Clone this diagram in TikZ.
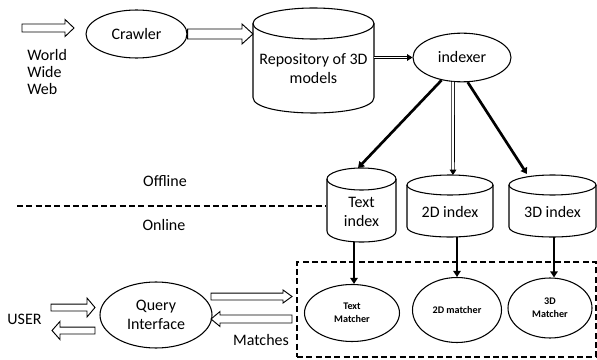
\documentclass[tikz,border=0pt]{standalone}
\usepackage{fontspec}
\setmainfont{Carlito}
\usetikzlibrary{calc,arrows.meta,shapes.geometric}
\newcommand\dbcyl[5]{%
  \draw[cylline] (#1-#4,#2+#5) -- (#1-#4,#3-#5) .. controls (#1-#4,#3+0.3333*#5) and (#1+#4,#3+0.3333*#5) .. (#1+#4,#3-#5) -- (#1+#4,#2+#5);
  \draw[cylline] (#1,#2+#5) ellipse [x radius=#4, y radius=#5];
}
\begin{document}
\begin{tikzpicture}[x=0.75pt,y=-0.75pt,
  every node/.style={font=\fontsize{12}{14.3}\selectfont, inner sep=0pt},
  ell/.style={draw, ellipse, line width=0.8pt},
  cylline/.style={line width=0.8pt},
  mtext/.style={font=\fontsize{7.6}{9.5}\selectfont\bfseries, align=center},
  link/.style={line width=2pt, -{Triangle[length=4.5pt,width=5.5pt]}},
  dbl/.style={double, double distance=1.4pt, line width=0.6pt, -{Triangle[length=4pt,width=5pt]}},
  dashline/.style={line width=1pt, dash pattern=on 4.5pt off 2.5pt},
  blk/.style n args={3}{draw, line width=0.7pt, fill=white, to path={let \p1=(\tikztostart), \p2=(\tikztotarget), \p3=($(\p2)!#3!(\p1)$) in ($(\p1)!#1!90:(\p2)$) -- ($(\p3)!#1!90:(\p2)$) -- ($(\p3)!#2!90:(\p2)$) -- (\p2) -- ($(\p3)!#2!-90:(\p2)$) -- ($(\p3)!#1!-90:(\p2)$) -- ($(\p1)!#1!-90:(\p2)$) -- cycle}}
]
\useasboundingbox (0,0) rectangle (597,360);

% cylinders
\dbcyl{313.5}{8}{113}{60.5}{15.5}
\dbcyl{361.5}{168}{242}{34.5}{11}
\dbcyl{450}{175}{237}{43}{10}
\dbcyl{552.5}{175}{237}{43.5}{10}
\node[align=center] (repo) at (313.5,69) {Repository of 3D\\models};
\node[align=center] (textidx) at (361.5,212) {Text\\index};
\node (idx2d) at (450,212) {2D index};
\node (idx3d) at (552.5,212) {3D index};

% ellipses
\node[ell, minimum width=75.75pt, minimum height=36pt] (crawler) at (136.5,34) {Crawler};
\node[ell, minimum width=73.5pt, minimum height=36.5pt] (indexer) at (462,57.5) {indexer};
\node[ell, minimum width=84pt, minimum height=49.5pt, align=center] (query) at (156,315) {Query\\Interface};
\node[draw, dashline, minimum width=224.25pt, minimum height=71.25pt] (box) at (446.5,309.5) {};
\node[ell, mtext, minimum width=71.25pt, minimum height=42.75pt] (textm) at (352,313) {Text\\Matcher};
\node[ell, mtext, minimum width=66.75pt, minimum height=48.75pt] (m2d) at (457,310) {2D matcher};
\node[ell, mtext, minimum width=63pt, minimum height=45pt] (m3d) at (550,308) {3D\\Matcher};

% labels
\node[align=left, anchor=west, font=\fontsize{12}{13.1}\selectfont] (www) at (27,72) {World\\Wide\\Web};
\node (offline) at (165,181) {Offline};
\node (online) at (164,225) {Online};
\node (user) at (24.5,319) {USER};
\node (matches) at (261,340) {Matches};

% coordinates
\coordinate (www-a) at (22,28);
\coordinate (www-b) at (74,28);
\coordinate (repo-in) at (253,34);
\coordinate (repo-out) at (374,57.5);
\coordinate (textidx-in) at (358,168);
\coordinate (idx2d-in) at (453,175);
\coordinate (idx3d-in) at (527,174);
\coordinate (textidx-out) at (354,242);
\coordinate (idx2d-out) at (457,237);
\coordinate (idx3d-out) at (554,237);
\coordinate (user-r1) at (51,307.5);
\coordinate (user-r2) at (95,307.5);
\coordinate (user-l1) at (95,330.5);
\coordinate (user-l2) at (52,330.5);
\coordinate (q-r1) at (211,296.5);
\coordinate (q-r2) at (292,296.5);
\coordinate (q-l1) at (292,319);
\coordinate (q-l2) at (211,319);
\coordinate (dl-a) at (17,206);
\coordinate (dl-b) at (326,206);

% offline/online divider
\draw[dashline] (dl-a) -- (dl-b);

% block arrows
\draw[blk={3pt}{6.4pt}{6.75pt}] (www-a) to (www-b);
\draw[blk={3.75pt}{7.5pt}{8.25pt}] (crawler.east) to (repo-in);
\draw[blk={2.6pt}{7.1pt}{6pt}] (user-r1) to (user-r2);
\draw[blk={2.6pt}{6.8pt}{6pt}] (user-l1) to (user-l2);
\draw[blk={2.6pt}{4.9pt}{6.75pt}] (q-r1) to (q-r2);
\draw[blk={3pt}{5.6pt}{6.75pt}] (q-l1) to (q-l2);

% connectors
\draw[dbl] (repo-out) -- (indexer.west);
\draw[link] (indexer.228) -- (textidx-in);
\draw[dbl] (indexer.250) -- (idx2d-in);
\draw[link] (indexer.283) -- (idx3d-in);
\draw[link] (textidx-out) -- (textidx-out |- textm.north);
\draw[link] (idx2d-out) -- (idx2d-out |- m2d.north);
\draw[link] (idx3d-out) -- (idx3d-out |- m3d.north);
\end{tikzpicture}
\end{document}
